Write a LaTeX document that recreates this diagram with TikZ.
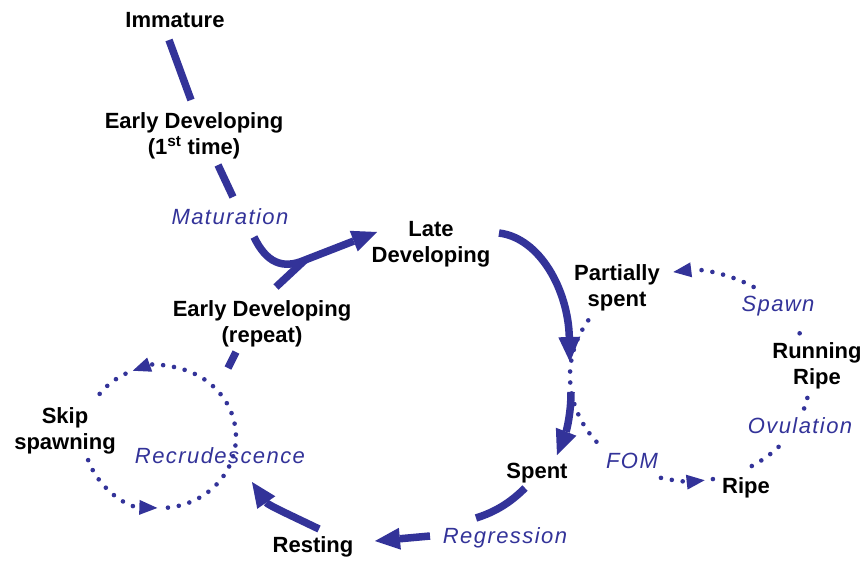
\documentclass[tikz,border=0pt]{standalone}
\usepackage{fontspec}
\setmainfont{Liberation Sans}
\newfontfamily\bluefont{Liberation Sans}[LetterSpace=6.5]
\usetikzlibrary{arrows.meta}
\definecolor{myblue}{RGB}{51,51,153}
\begin{document}
\begin{tikzpicture}[x=1pt,y=-1pt,
  lab/.style={font=\fontsize{22}{26}\selectfont\bfseries, inner sep=0pt},
  lab2/.style={lab, align=center},
  blab/.style={font=\bluefont\fontsize{22}{26}\selectfont\itshape, text=myblue, inner sep=0pt},
  main/.style={draw=myblue, line width=7.5pt},
  mainarr/.style={main, -{Triangle[length=25pt,width=22pt,line width=0pt]}},
  dotline/.style={draw=myblue, line width=4.6pt, line cap=round, dash pattern=on 0pt off 11pt},
  dotarr/.style={dotline, -{Triangle[length=18pt,width=15pt,line width=0pt]}},
]
\fill[white] (0,0) rectangle (864,560);
\useasboundingbox (0,0) rectangle (864,560);

% labels
\node[lab, anchor=base] (imm) at (175,27) {Immature};
\node[lab2] (ed1) at (194,135.4) {Early Developing\\(1\textsuperscript{st} time)};
\node[blab, anchor=base] (mat) at (230,224) {Maturation};
\node[lab2] (late) at (431,244.4) {Late\\Developing};
\node[lab2] (part) at (617,287.4) {Partially\\spent};
\node[lab2] (edr) at (262,323.4) {Early Developing\\(repeat)};
\node[lab2] (run) at (817,365.4) {Running\\Ripe};
\node[lab2] (skip) at (65,430.4) {Skip\\spawning};
\node[blab, anchor=base] (recr) at (220,463) {Recrudescence};
\node[lab, anchor=base] (spent) at (537,478) {Spent};
\node[blab, anchor=base] (fom) at (632,468) {FOM};
\node[lab, anchor=base] (ripe) at (746,493) {Ripe};
\node[blab, anchor=base] (spawn) at (778,311) {Spawn};
\node[blab, anchor=base] (ovul) at (800,433) {Ovulation};
\node[blab, anchor=base] (regr) at (505,543) {Regression};
\node[lab, anchor=base] (rest) at (313,552) {Resting};

% left dotted loop (skip spawning)
\coordinate (lc) at (160,437);
\path (lc) ++(161:76 and 71) coordinate (l1);
\path (lc) ++(84:76 and 71) coordinate (l2);
\path (lc) ++(-117:76 and 71) coordinate (l3);
\draw[dotarr] (l1) arc[start angle=161,end angle=92,x radius=76,y radius=71];
\draw[dotarr] (l2) arc[start angle=84,end angle=-111,x radius=76,y radius=71];
\draw[dotline] (l3) arc[start angle=-117,end angle=-144,x radius=76,y radius=71];

% right dotted loop (spawning)
\coordinate (rc) at (690,376);
\path (rc) ++(212:120 and 105) coordinate (r1);
\path (rc) ++(104:120 and 105) coordinate (r2);
\path (rc) ++(79:120 and 105) coordinate (r2b);
\path (rc) ++(59:120 and 105) coordinate (r3);
\path (rc) ++(18:120 and 105) coordinate (r4);
\path (rc) ++(-24:120 and 105) coordinate (r5);
\path (rc) ++(-58:120 and 105) coordinate (r6);
\draw[dotline] (r1) arc[start angle=212,end angle=140,x radius=120,y radius=105];
\draw[dotarr] (r2) arc[start angle=104,end angle=83,x radius=120,y radius=105];
\draw[dotline] (r2b) arc[start angle=79,end angle=78,x radius=120,y radius=105];
\draw[dotline] (r3) arc[start angle=59,end angle=40,x radius=120,y radius=105];
\draw[dotline] (r4) arc[start angle=18,end angle=12,x radius=120,y radius=105];
\draw[dotline] (r5) arc[start angle=-24,end angle=-28,x radius=120,y radius=105];
\draw[dotarr] (r6) arc[start angle=-58,end angle=-98,x radius=120,y radius=105];

% main cycle (thick)
\coordinate (a1) at (169,40);
\coordinate (a2) at (191,100);
\coordinate (b1) at (218,165);
\coordinate (b2) at (233,197);
\coordinate (c1) at (254,237);
\coordinate (c2) at (305,260);
\coordinate (tipL) at (377,232);
\coordinate (d1) at (276,287);
\coordinate (e1) at (499,233);
\coordinate (jn) at (570,362);
\coordinate (f1) at (571,392);
\coordinate (tipS) at (557,455);
\coordinate (g1) at (525,488);
\coordinate (g2) at (476,518);
\coordinate (h1) at (430,536);
\coordinate (tipR) at (375,541);
\coordinate (i1) at (319,529);
\coordinate (tipC) at (252,482);
\coordinate (k1) at (236,352);
\coordinate (k2) at (228,368);

\draw[main] (a1) -- (a2);
\draw[main] (b1) -- (b2);
\draw[mainarr] (c1) .. controls (266,262) and (282,270) .. (c2) -- (tipL);
\draw[main] (d1) -- (c2);
\draw[mainarr] (e1) .. controls (540,238) and (568,290) .. (jn);
\draw[mainarr] (f1) .. controls (571,415) and (566,432) .. (tipS);
\draw[main] (g1) .. controls (510,503) and (495,512) .. (g2);
\draw[mainarr] (h1) -- (tipR);
\draw[mainarr] (i1) .. controls (290,515) and (268,505) .. (tipC);
\draw[main] (k1) -- (k2);
\end{tikzpicture}
\end{document}
